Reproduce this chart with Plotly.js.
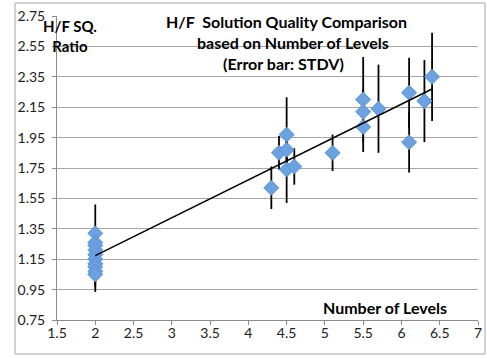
<!DOCTYPE html>
<html>
<head>
<meta charset="utf-8">
<script src="https://cdn.plot.ly/plotly-3.0.1.min.js"></script>
<style>html,body{margin:0;padding:0;background:#fff;}#chart{width:487px;height:358px;}</style>
</head>
<body>
<div id="chart"></div>
<script>
// Data
var levels = [2,2,2,2,2,2,2,2,2,2, 4.3,4.4,4.5,4.5,4.5,4.6,5.1,5.5,5.5,5.5,5.7,6.1,6.1,6.3,6.4];
var ratio  = [1.32,1.26,1.24,1.21,1.18,1.15,1.12,1.10,1.07,1.05, 1.62,1.85,1.97,1.87,1.74,1.76,1.85,2.02,2.12,2.20,2.14,2.245,1.92,2.19,2.35];
var stdv   = [0.19,0.1,0.1,0.1,0.1,0.1,0.1,0.1,0.1,0.115, 0.14,0.11,0.245,0.1,0.22,0.12,0.12,0.165,0.15,0.28,0.29,0.23,0.2,0.27,0.29];
var trendX = [2, 6.4];
var trendY = [1.173, 2.27];
var xTicks = [1.5,2,2.5,3,3.5,4,4.5,5,5.5,6,6.5,7];
var yTicks = [0.75,0.95,1.15,1.35,1.55,1.75,1.95,2.15,2.35,2.55,2.75];

var font = "Lato, 'Open Sans', sans-serif";

var traces = [
  {
    x: levels, y: ratio, type: 'scatter', mode: 'markers',
    marker: {symbol: 'diamond', size: 11.5, color: '#6ca2e0', line: {color: '#5b91d3', width: 1}},
    error_y: {type: 'data', array: stdv, symmetric: true, color: '#000', thickness: 1.8, width: 0},
    hoverinfo: 'skip', showlegend: false
  },
  {
    x: trendX, y: trendY, type: 'scatter', mode: 'lines',
    line: {color: '#000', width: 1.5}, hoverinfo: 'skip', showlegend: false
  }
];

var W = 421, H = 304, L = 57, T = 16;
function px(x){ return (x - L) / W; }
function py(y){ return (T + H - y) / H; }

function ann(text, x, y, size){
  return {text: text, xref: 'paper', yref: 'paper', x: px(x), y: py(y), xanchor: 'center', yanchor: 'middle',
          align: 'center', borderpad: 0,
          showarrow: false, font: {family: font, size: size, color: '#000', weight: 'bold'}};
}

var layout = {
  width: 487, height: 358,
  margin: {l: L, r: 487 - L - W, t: T, b: 358 - T - H},
  paper_bgcolor: '#fff', plot_bgcolor: '#fff',
  xaxis: {
    range: [1.5, 7], tickvals: xTicks, ticktext: xTicks.map(String),
    ticks: 'outside', ticklen: 4, tickcolor: '#8c8c8c',
    showline: true, linecolor: '#8c8c8c', linewidth: 1,
    showgrid: false, zeroline: false, ticklabelstandoff: -4,
    tickfont: {family: font, size: 14, color: '#222'}
  },
  yaxis: {
    range: [0.75, 2.75], tickvals: yTicks, ticktext: yTicks.map(function(v){return v.toFixed(2);}),
    ticks: 'outside', ticklen: 4, tickcolor: '#8c8c8c',
    showline: true, linecolor: '#8c8c8c', linewidth: 1,
    showgrid: true, gridcolor: '#a6a6a6', gridwidth: 1, zeroline: false, ticklabelstandoff: 4,
    tickfont: {family: font, size: 14, color: '#222'}
  },
  shapes: [
    {type: 'rect', xref: 'paper', yref: 'paper', x0: px(15), x1: px(485), y0: py(354), y1: py(3),
     line: {color: '#a6a6a6', width: 1}, fillcolor: 'rgba(0,0,0,0)', layer: 'below'}
  ],
  annotations: [
    ann('H/F  Solution Quality Comparison', 286.5, 21, 16),
    ann('based on Number of Levels', 292.5, 43, 16),
    ann('(Error bar: STDV)', 283, 63.5, 16),
    ann('H/F SQ.<br>Ratio', 70, 35.5, 15),
    ann('Number of Levels', 385, 307, 16)
  ]
};

Plotly.newPlot('chart', traces, layout, {staticPlot: true, displayModeBar: false});
</script>
</body>
</html>
